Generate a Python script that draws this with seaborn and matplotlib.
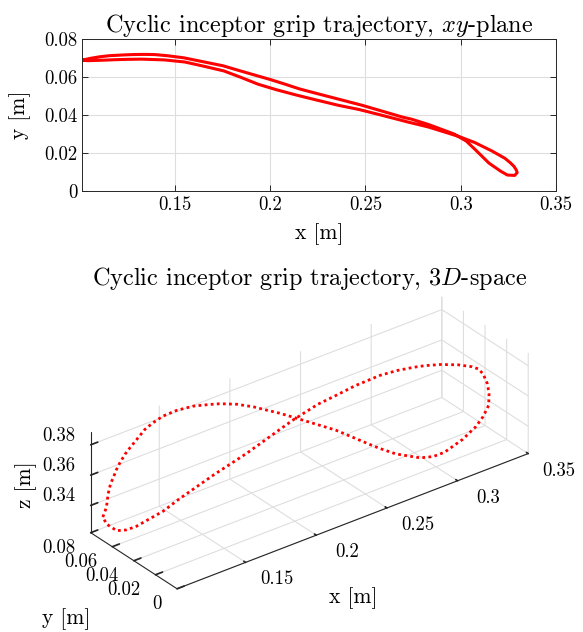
import numpy as np
import pandas as pd
import seaborn as sns
import matplotlib.pyplot as plt
from matplotlib.ticker import FuncFormatter, NullFormatter
from mpl_toolkits.mplot3d import proj3d

# grip position over one cycle [m]
x = [0.1016, 0.1047, 0.1061, 0.1080, 0.1103, 0.1129, 0.1155, 0.1192, 0.1229, 0.1278,
     0.1337, 0.1394, 0.1461, 0.1547, 0.1650, 0.1753, 0.1810, 0.1906, 0.2003, 0.2079,
     0.2155, 0.2234, 0.2483, 0.2698, 0.2742, 0.2831, 0.2965, 0.3029, 0.3075, 0.3148,
     0.3210, 0.3245, 0.3283, 0.3296,
     0.3293, 0.3280, 0.3261, 0.3232, 0.3165, 0.3074, 0.2990, 0.2923, 0.2830, 0.2727,
     0.2581, 0.2466, 0.2358, 0.2210, 0.2130, 0.2033, 0.1937, 0.1847, 0.1757, 0.1651,
     0.1552, 0.1444, 0.1327, 0.1256, 0.1184, 0.1113, 0.1041]
y = [0.0689, 0.0696, 0.0699, 0.0702, 0.0706, 0.0709, 0.0712, 0.0714, 0.0716, 0.0718,
     0.0719, 0.0718, 0.0712, 0.0701, 0.0680, 0.0659, 0.0642, 0.0614, 0.0586, 0.0562,
     0.0537, 0.0516, 0.0451, 0.0388, 0.0378, 0.0350, 0.0300, 0.0263, 0.0219, 0.0147,
     0.0104, 0.0084, 0.0082, 0.0096,
     0.0108, 0.0129, 0.0148, 0.0172, 0.0210, 0.0255, 0.0287, 0.0308, 0.0337, 0.0362,
     0.0400, 0.0429, 0.0451, 0.0487, 0.0507, 0.0533, 0.0562, 0.0598, 0.0632, 0.0657,
     0.0679, 0.0690, 0.0694, 0.0693, 0.0691, 0.0688, 0.0686]
z = [0.3374, 0.3425, 0.3506, 0.3563, 0.3596, 0.3640, 0.3673, 0.3714, 0.3743, 0.3779,
     0.3824, 0.3848, 0.3871, 0.3882, 0.3883, 0.3867, 0.3859, 0.3834, 0.3795, 0.3757,
     0.3720, 0.3675, 0.3531, 0.3380, 0.3350, 0.3296, 0.3245, 0.3248, 0.3280, 0.3372,
     0.3455, 0.3517, 0.3579, 0.3645,
     0.3706, 0.3764, 0.3796, 0.3810, 0.3829, 0.3843, 0.3851, 0.3854, 0.3853, 0.3846,
     0.3813, 0.3776, 0.3748, 0.3681, 0.3637, 0.3581, 0.3523, 0.3467, 0.3413, 0.3358,
     0.3308, 0.3259, 0.3236, 0.3225, 0.3228, 0.3250, 0.3320]

x_ticks = [0.15, 0.2, 0.25, 0.3, 0.35]
y_ticks = [0, 0.02, 0.04, 0.06, 0.08]
z_ticks = [0.34, 0.36, 0.38]

sns.set_theme(style='white')
plt.rcParams['font.family'] = ['cmr10']
plt.rcParams['mathtext.fontset'] = 'cm'
plt.rcParams['axes.formatter.use_mathtext'] = True
plt.rcParams['text.color'] = 'black'
plt.rcParams['axes.labelcolor'] = 'black'
plt.rcParams['grid.color'] = '#dedede'
plt.rcParams['grid.linewidth'] = 0.8
plt.rcParams['grid.linestyle'] = '-'

W, H = 583, 632
red = '#ff0000'
axcol = '#262626'
fmt = FuncFormatter(lambda v, _: f'{v:g}')

df = pd.DataFrame({'x': x + x[:1], 'y': y + y[:1], 'z': z + z[:1]})

fig = plt.figure(figsize=(W / 100, H / 100), dpi=100)

# xy-plane
ax = fig.add_axes([82 / W, 1 - 191 / H, 474 / W, 152 / H])
sns.lineplot(data=df, x='x', y='y', sort=False, estimator=None, color=red, lw=2.2, ax=ax)
ax.set_xlim(0.1013, 0.35)
ax.set_ylim(0, 0.08)
ax.set_xticks(x_ticks)
ax.set_yticks(y_ticks)
ax.xaxis.set_major_formatter(fmt)
ax.yaxis.set_major_formatter(fmt)
ax.grid(True)
ax.tick_params(direction='in', length=4, width=0.7, color=axcol, labelcolor='black',
               labelsize=13.5, top=True, right=True, bottom=True, left=True)
for s in ax.spines.values():
    s.set_color(axcol)
    s.set_linewidth(0.7)
ax.set_xlabel('x [m]', fontsize=15.5, labelpad=7)
ax.set_ylabel('y [m]', fontsize=15.5, labelpad=9)
ax.set_title(r'Cyclic inceptor grip trajectory, $xy$-plane', fontsize=17.5, pad=5)

# 3D-space
xlo, xhi = 0.1015, 0.35
ylo, yhi = 0.0, 0.08
zlo, zhi = 0.322, 0.3885

ax3 = fig.add_axes([0, 0, 1, 0.6], projection='3d')
ax3.patch.set_alpha(0)
ax3.set_proj_type('ortho')
ax3.view_init(elev=30, azim=-127.6)
aspect = (3.81, 1.217, 1.0)
ax3.set_box_aspect(aspect)
ax3.plot(df['x'], df['y'], df['z'], color=red, lw=2.0, linestyle=(0, (1, 1.2)), clip_on=False)
ax3.set_xlim(xlo, xhi)
ax3.set_ylim(ylo, yhi)
ax3.set_zlim(zlo, zhi)
ax3.set_xticks(x_ticks)
ax3.set_yticks(y_ticks)
ax3.set_zticks(z_ticks)
for axis in (ax3.xaxis, ax3.yaxis, ax3.zaxis):
    axis.set_major_formatter(NullFormatter())
    axis.set_tick_params(labelbottom=False, color=axcol, width=0.8)
    axis.label.set_visible(False)
    axis.offsetText.set_visible(False)
    axis.set_pane_color((1, 1, 1, 0))
    axis.pane.set_edgecolor((1, 1, 1, 0))
    axis.line.set_color(axcol)
    axis.line.set_linewidth(0.8)
    axis._axinfo['tick']['inward_factor'] = 0.0
    axis._axinfo['tick']['outward_factor'] = 0.25


def px(p):
    xs, ys, _ = proj3d.proj_transform(p[0], p[1], p[2], ax3.M)
    return np.array(ax3.transData.transform((xs, ys)))


# fit the box to the reference position: corner (xmin, ymax, zmin) and (xmax, 0, zmin)
ta = np.array([90.7, H - 532.7])
tb = np.array([528.3, H - 454.0])
ca = (xlo, yhi, zlo)
cb = (xhi, ylo, zlo)
fig.canvas.draw()
k = np.hypot(*(tb - ta)) / np.hypot(*(px(cb) - px(ca)))
ax3.set_box_aspect(aspect, zoom=k)
fig.canvas.draw()
d = (ta - px(ca)) / np.array([W, H])
pos = ax3.get_position()
ax3.set_position([pos.x0 + d[0], pos.y0 + d[1], pos.width, pos.height])
fig.canvas.draw()

# tick labels placed like the MATLAB ones, next to the projected tick positions
for v in x_ticks:
    p = px((v, ylo, zlo)) + (31, -17)
    fig.text(p[0] / W, p[1] / H, f'{v:g}', fontsize=13.5, ha='center', va='center')
for v in y_ticks:
    p = px((xlo, v, zlo)) + (-15, -15.5)
    fig.text(p[0] / W, p[1] / H, f'{v:g}', fontsize=13.5, ha='right', va='center')
for v in z_ticks:
    p = px((xlo, yhi, v)) + (-15, 9)
    fig.text(p[0] / W, p[1] / H, f'{v:g}', fontsize=13.5, ha='right', va='center')

fig.text(310 / W, 1 - 278 / H, r'Cyclic inceptor grip trajectory, $3D$-space',
         fontsize=17.5, ha='center', va='center')
fig.text(353 / W, 1 - 598 / H, 'x [m]', fontsize=15.5, ha='center', va='center')
fig.text(66 / W, 1 - 619 / H, 'y [m]', fontsize=15.5, ha='center', va='center')
fig.text(26 / W, 1 - 485 / H, 'z [m]', fontsize=15.5, ha='center', va='center',
         rotation=90)

fig.savefig('out.png', dpi=100)
